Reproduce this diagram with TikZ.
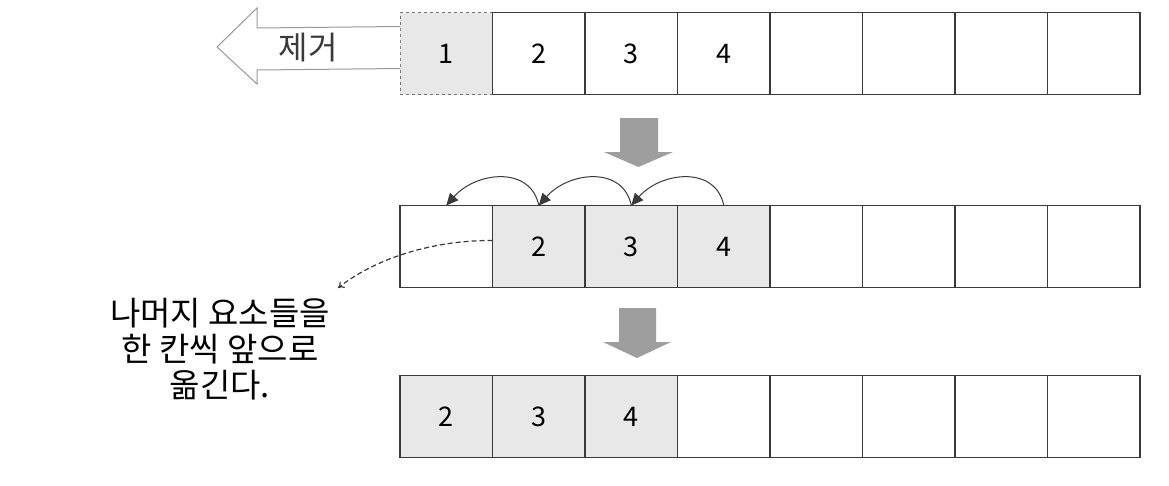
\documentclass[tikz,border=0pt]{standalone}
\usepackage{fontspec}
\setmainfont{Noto Sans CJK KR}
\usetikzlibrary{arrows.meta}
\definecolor{cellgray}{HTML}{E8E8E8}
\definecolor{linec}{HTML}{3A3A3A}
\definecolor{arrowgray}{HTML}{9E9E9E}
\begin{document}
\begin{tikzpicture}[x=1pt,y=1pt,
  cell/.style={draw=linec, line width=1.1pt, minimum width=92.5pt, minimum height=82pt, inner sep=0pt, outer sep=0pt, font=\fontsize{27}{32}\selectfont},
  filled/.style={fill=cellgray},
  hop/.style={draw=linec, line width=1pt, -{Triangle[length=12pt,width=11pt]}},
  blockarrow/.style={fill=arrowgray, draw=none},
  note/.style={dashed, dash pattern=on 5pt off 3pt, line width=1.2pt, draw=linec, -{To[length=6pt,width=8pt]}}
]
\useasboundingbox (0,0) rectangle (1169,-485);
\fill[white] (0,0) rectangle (1169,-485);
% Row 1
\foreach \i in {2,...,8} {
  \node[cell] (a\i) at ({400+92.5*(\i-0.5)},-53.5) {};
}
\node[cell, filled, draw=linec!70, dashed, line width=0.9pt] (a1) at ({400+92.5*0.5},-53.5) {1};
\node[cell] at (a2) {2};
\node[cell] at (a3) {3};
\node[cell] at (a4) {4};
% Row 2
\node[cell] (b1) at ({400+92.5*0.5},-246.5) {};
\node[cell, filled] (b2) at ({400+92.5*1.5},-246.5) {2};
\node[cell, filled] (b3) at ({400+92.5*2.5},-246.5) {3};
\node[cell, filled] (b4) at ({400+92.5*3.5},-246.5) {4};
\foreach \i in {5,...,8} {
  \node[cell] (b\i) at ({400+92.5*(\i-0.5)},-246.5) {};
}
% Row 3
\node[cell, filled] (c1) at ({400+92.5*0.5},-416.5) {2};
\node[cell, filled] (c2) at ({400+92.5*1.5},-416.5) {3};
\node[cell, filled] (c3) at ({400+92.5*2.5},-416.5) {4};
\foreach \i in {4,...,8} {
  \node[cell] (c\i) at ({400+92.5*(\i-0.5)},-416.5) {};
}
% Remove arrow
\draw[draw=gray!80, line width=1pt, fill=white]
  ([yshift=-14pt]a1.north west) -- (257,-28) -- (257,-8) -- (217,-47) -- (257,-84) -- (257,-70) -- ([yshift=-56pt]a1.north west);
\node[font=\fontsize{32}{36}\selectfont, text=linec] (rm) at (308,-48) {제거};
% Down arrows
\fill[blockarrow] (620,-118) -- (658,-118) -- (658,-152) -- (673,-152) -- (638.5,-167) -- (604,-152) -- (620,-152) -- cycle;
\fill[blockarrow] (619,-308) -- (656,-308) -- (656,-342) -- (671,-342) -- (637,-358) -- (603,-342) -- (619,-342) -- cycle;
% Hop arrows
\draw[hop] (b4.north) .. controls +(-8,40) and +(30,34) .. (b3.north);
\draw[hop] (b3.north) .. controls +(-8,40) and +(30,34) .. (b2.north);
\draw[hop] (b2.north) .. controls +(-8,40) and +(30,34) .. (b1.north);
% Note
\coordinate (ntip) at (338,-288);
\draw[note] ([yshift=6pt]b2.west) .. controls (440,-240) and (380,-255) .. (ntip);
\node[font=\fontsize{33}{36}\selectfont, align=center, text=black] (txt) at (220,-349) {나머지 요소들을\\한 칸씩 앞으로\\옮긴다.};
\end{tikzpicture}
\end{document}
